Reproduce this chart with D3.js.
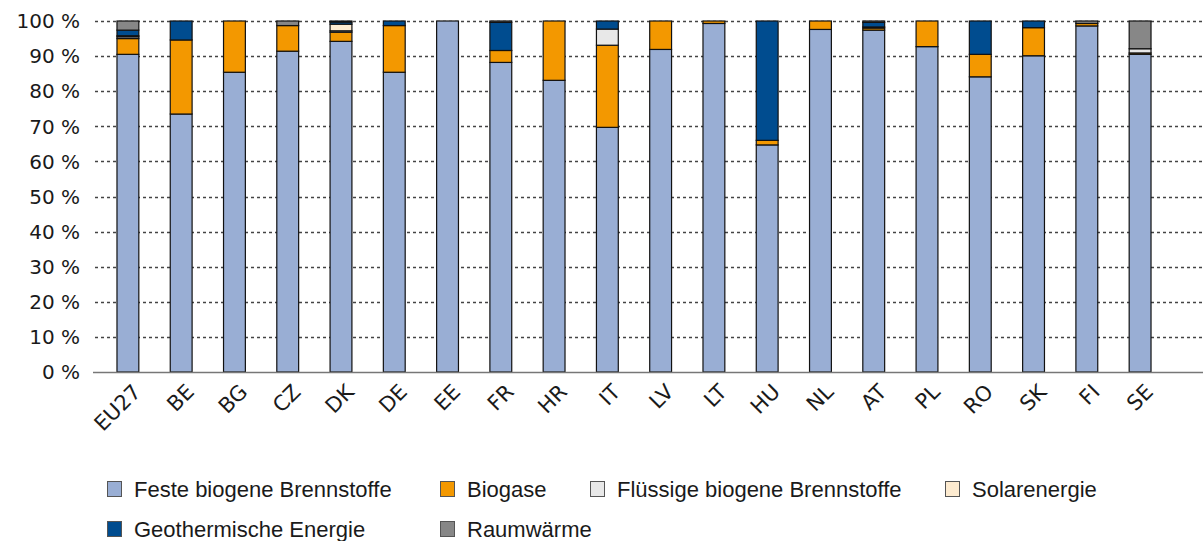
<!DOCTYPE html>
<html>
<head>
<meta charset="utf-8">
<script src="https://cdn.jsdelivr.net/npm/d3@7"></script>
<style>
  body { margin: 0; background: #fff; }
  svg text { fill: #1a1a1a; }
</style>
</head>
<body>
<svg width="1203" height="541"></svg>
<script>
// categories
var countries = ["EU27", "BE", "BG", "CZ", "DK", "DE", "EE", "FR", "HR", "IT",
                 "LV", "LT", "HU", "NL", "AT", "PL", "RO", "SK", "FI", "SE"];

// series (shares in %)
var feste      = [90.5, 73.5, 85.4, 91.4, 94.2, 85.4, 100, 88.2, 83.1, 69.7, 91.9, 99.3, 64.7, 97.6, 97.4, 92.7, 84.1, 90.1, 98.6, 90.5];
var biogase    = [4.5, 21.1, 14.6, 7.3, 2.6, 13.3, 0, 3.4, 16.9, 23.4, 8.1, 0.7, 1.3, 2.4, 0.6, 7.3, 6.4, 8.0, 0.7, 0.4];
var fluessig   = [0.5, 0, 0, 0, 0.4, 0, 0, 0, 0, 4.6, 0, 0, 0, 0, 0, 0, 0, 0, 0, 1.2];
var solar      = [0.3, 0, 0, 0, 1.9, 0, 0, 0, 0, 0, 0, 0, 0, 0, 0.3, 0, 0, 0, 0, 0];
var geothermie = [1.6, 5.4, 0, 0, 0.6, 1.3, 0, 8.0, 0, 2.3, 0, 0, 34.0, 0, 1.3, 0, 9.5, 1.9, 0, 0];
var raumwaerme = [2.6, 0, 0, 1.3, 0.3, 0, 0, 0.4, 0, 0, 0, 0, 0, 0, 0.4, 0, 0, 0, 0.7, 7.9];

var seriesNames  = ["Feste biogene Brennstoffe", "Biogase", "Flüssige biogene Brennstoffe",
                    "Solarenergie", "Geothermische Energie", "Raumwärme"];
var seriesColors = ["#99aed4", "#f39800", "#e8e8e8", "#fdebd0", "#004c8f", "#878787"];
var yTicks = [0, 10, 20, 30, 40, 50, 60, 70, 80, 90, 100];

var svg = d3.select("svg");

var keys = ["s0", "s1", "s2", "s3", "s4", "s5"];
var allSeries = [feste, biogase, fluessig, solar, geothermie, raumwaerme];
var table = countries.map(function(c, i) {
  var row = { country: c };
  keys.forEach(function(k, j) { row[k] = allSeries[j][i]; });
  return row;
});
var stacked = d3.stack().keys(keys)(table);

var plotLeft = 95, plotRight = 1203;
var x = d3.scaleBand()
    .domain(countries)
    .range([101, 1167])
    .paddingInner(0.59)
    .paddingOuter(0.3);

var y = d3.scaleLinear()
    .domain([0, 100])
    .range([372, 21]);

// grid
svg.append("g")
  .selectAll("line")
  .data(yTicks.slice(1))
  .enter()
  .append("line")
    .attr("x1", plotLeft)
    .attr("x2", plotRight)
    .attr("y1", function(d) { return Math.round(y(d)) + 0.5; })
    .attr("y2", function(d) { return Math.round(y(d)) + 0.5; })
    .style("stroke", "#444")
    .style("stroke-width", 1.3)
    .style("stroke-dasharray", "3,3");

// y labels
svg.append("g")
  .selectAll("text")
  .data(yTicks)
  .enter()
  .append("text")
    .attr("x", 80)
    .attr("y", function(d) { return y(d); })
    .attr("dy", "0.36em")
    .attr("text-anchor", "end")
    .style("font-family", "DejaVu Sans")
    .style("font-size", "20px")
    .text(function(d) { return d + " %"; });

// bars
svg.append("g")
  .selectAll("g")
  .data(stacked)
  .enter()
  .append("g")
    .style("fill", function(d, i) { return seriesColors[i]; })
  .selectAll("rect")
  .data(function(d) { return d; })
  .enter()
  .append("rect")
    .filter(function(d) { return d[1] - d[0] > 0; })
    .attr("x", function(d) { return x(d.data.country); })
    .attr("width", x.bandwidth())
    .attr("y", function(d) { return y(d[1]); })
    .attr("height", function(d) { return y(d[0]) - y(d[1]); })
    .style("stroke", "#111")
    .style("stroke-width", 1.2);

// x axis line
svg.append("line")
  .attr("x1", plotLeft - 2)
  .attr("x2", plotRight)
  .attr("y1", 372.5)
  .attr("y2", 372.5)
  .style("stroke", "#777")
  .style("stroke-width", 1.5);

// x labels
svg.append("g")
  .selectAll("text")
  .data(countries)
  .enter()
  .append("text")
    .attr("text-anchor", "end")
    .attr("transform", function(d) {
      var cx = x(d) + x.bandwidth() / 2 + 9;
      return "translate(" + cx + ",388) rotate(-45)";
    })
    .attr("dy", "0.35em")
    .style("font-family", "DejaVu Sans")
    .style("font-size", "21px")
    .text(function(d) { return d; });

// legend
var legendPos = [[107, 489], [440, 489], [590, 489], [945, 489], [107, 529], [440, 529]];
var legend = svg.append("g")
  .selectAll("g")
  .data(seriesNames)
  .enter()
  .append("g")
    .attr("transform", function(d, i) { return "translate(" + legendPos[i][0] + "," + legendPos[i][1] + ")"; });

legend.append("rect")
  .attr("x", 0.5)
  .attr("y", -7.5)
  .attr("width", 14)
  .attr("height", 15)
  .style("fill", function(d, i) { return seriesColors[i]; })
  .style("stroke", "#555")
  .style("stroke-width", 1);

legend.append("text")
  .attr("x", 27)
  .attr("y", 0)
  .attr("dy", "0.36em")
  .style("font-family", "Liberation Sans")
  .style("font-size", "22px")
  .text(function(d) { return d; });
</script>
</body>
</html>
